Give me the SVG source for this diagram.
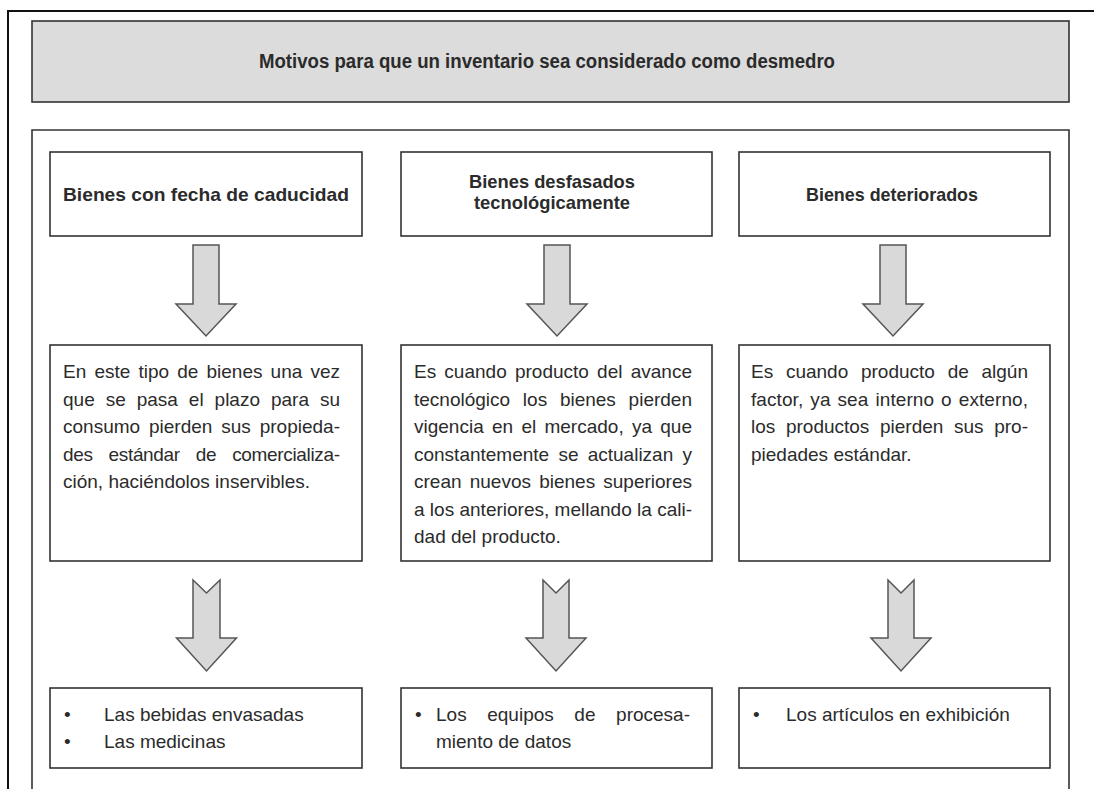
<svg xmlns="http://www.w3.org/2000/svg" width="1094" height="789" viewBox="0 0 1094 789">
<defs>
<style>
.frame{fill:none;stroke:#111;stroke-width:2}
.box{fill:#fff;stroke:#333;stroke-width:1.6}
.title{fill:#dcdcdc;stroke:#333;stroke-width:1.6}
.arrow{fill:#d9d9d9;stroke:#555;stroke-width:1.5;stroke-linejoin:miter}
text{font-family:"Liberation Sans",Arial,sans-serif;fill:#2b2b2b}
.h{font-size:19px;font-weight:bold}
.t{font-size:20px;font-weight:bold}
.b{font-size:19px}
</style>
</defs>
<rect width="1094" height="789" fill="#fff"/>
<path class="frame" d="M8,789 V11 H1094"/>
<g id="title">
<rect class="title" x="32" y="21" width="1037" height="81"/>
<text class="t" x="547" y="68" text-anchor="middle" textLength="576" lengthAdjust="spacingAndGlyphs">Motivos para que un inventario sea considerado como desmedro</text>
</g>
<path id="panel" class="frame" style="stroke:#333;stroke-width:1.6" d="M32,789 V130 H1069 V789"/>

<g id="h1">
<rect class="box" x="50" y="152" width="312" height="84"/>
<text class="h" x="206" y="201" text-anchor="middle" textLength="286" lengthAdjust="spacingAndGlyphs">Bienes con fecha de caducidad</text>
</g>
<g id="h2">
<rect class="box" x="401" y="152" width="311" height="84"/>
<text class="h" x="552" y="188" text-anchor="middle" textLength="166" lengthAdjust="spacingAndGlyphs">Bienes desfasados</text>
<text class="h" x="552" y="209" text-anchor="middle" textLength="156" lengthAdjust="spacingAndGlyphs">tecnológicamente</text>
</g>
<g id="h3">
<rect class="box" x="739" y="152" width="311" height="84"/>
<text class="h" x="892" y="201" text-anchor="middle" textLength="172" lengthAdjust="spacingAndGlyphs">Bienes deteriorados</text>
</g>

<g id="d1">
<rect class="box" x="50" y="345" width="312" height="216"/>
<text class="b" x="63" y="378" word-spacing="2.9" textLength="277" lengthAdjust="spacing">En este tipo de bienes una vez</text>
<text class="b" x="63" y="405.5" word-spacing="5.7" textLength="277" lengthAdjust="spacing">que se pasa el plazo para su</text>
<text class="b" x="63" y="433" word-spacing="3.6" textLength="277" lengthAdjust="spacing">consumo pierden sus propieda-</text>
<text class="b" x="63" y="460.5" word-spacing="11" textLength="277" lengthAdjust="spacing">des estándar de comercializa-</text>
<text class="b" x="63" y="488">ción, haciéndolos inservibles.</text>
</g>
<g id="d2">
<rect class="box" x="401" y="345" width="311" height="216"/>
<text class="b" x="414" y="378" word-spacing="2.9" textLength="278" lengthAdjust="spacing">Es cuando producto del avance</text>
<text class="b" x="414" y="405.5" word-spacing="7.5" textLength="278" lengthAdjust="spacing">tecnológico los bienes pierden</text>
<text class="b" x="414" y="433" word-spacing="3" textLength="278" lengthAdjust="spacing">vigencia en el mercado, ya que</text>
<text class="b" x="414" y="460.5" word-spacing="4" textLength="278" lengthAdjust="spacing">constantemente se actualizan y</text>
<text class="b" x="414" y="488" word-spacing="2.9" textLength="278" lengthAdjust="spacing">crean nuevos bienes superiores</text>
<text class="b" x="414" y="515.5" textLength="278" lengthAdjust="spacing">a los anteriores, mellando la cali-</text>
<text class="b" x="414" y="543">dad del producto.</text>
</g>
<g id="d3">
<rect class="box" x="739" y="345" width="311" height="216"/>
<text class="b" x="751" y="378" word-spacing="7.5" textLength="277" lengthAdjust="spacing">Es cuando producto de algún</text>
<text class="b" x="751" y="405.5" word-spacing="1.6" textLength="277" lengthAdjust="spacing">factor, ya sea interno o externo,</text>
<text class="b" x="751" y="433" word-spacing="5.4" textLength="277" lengthAdjust="spacing">los productos pierden sus pro-</text>
<text class="b" x="751" y="460.5">piedades estándar.</text>
</g>

<g id="e1">
<rect class="box" x="50" y="688" width="312" height="80"/>
<text class="b" x="64" y="721">•</text>
<text class="b" x="104" y="721">Las bebidas envasadas</text>
<text class="b" x="64" y="748">•</text>
<text class="b" x="104" y="748">Las medicinas</text>
</g>
<g id="e2">
<rect class="box" x="401" y="688" width="311" height="80"/>
<text class="b" x="415" y="721">•</text>
<text class="b" x="436" y="721" word-spacing="15.3" textLength="254" lengthAdjust="spacing">Los equipos de procesa-</text>
<text class="b" x="436" y="748">miento de datos</text>
</g>
<g id="e3">
<rect class="box" x="739" y="688" width="311" height="80"/>
<text class="b" x="753" y="721">•</text>
<text class="b" x="786" y="721">Los artículos en exhibición</text>
</g>

<g id="connectors">
<polygon class="arrow" points="193,245 219,245 219,304 236,304 206,336 176,304 193,304"/>
<polygon class="arrow" points="544,245 570,245 570,304 587,304 557,336 527,304 544,304"/>
<polygon class="arrow" points="880,245 906,245 906,304 923,304 893,336 863,304 880,304"/>
<polygon class="arrow" points="193,580 206.5,593 220,580 220,638 236.5,638 206.5,671 176.5,638 193,638"/>
<polygon class="arrow" points="543,580 556,593 569,580 569,638 586,638 556,671 526,638 543,638"/>
<polygon class="arrow" points="888,580 901,593 914,580 914,638 931,638 901,671 871,638 888,638"/>
</g>
</svg>
